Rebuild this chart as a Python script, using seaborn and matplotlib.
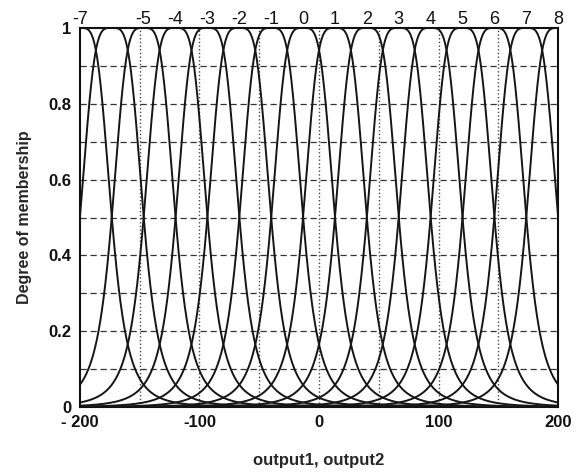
import numpy as np
import pandas as pd
import matplotlib
matplotlib.use('Agg')
import matplotlib.pyplot as plt
import seaborn as sns

# Membership function names (printed above each peak, '-6' is not printed in the original)
mf_names = ['-7', '-6', '-5', '-4', '-3', '-2', '-1', '0', '1', '2', '3', '4', '5', '6', '7', '8']
mf_centers = [-200, -173.3, -146.7, -120, -93.3, -66.7, -40, -13.3,
              13.3, 40, 66.7, 93.3, 120, 146.7, 173.3, 200]
hidden_names = ['-6']

# Generalized bell parameters (~0.94, 0.5, 0.17, 0.06)
bell_width = 26.7
bell_slope = 2

x_ticks = [-200, -100, 0, 100, 200]
x_tick_labels = ['- 200', '-100', '0', '100', '200']
y_ticks = [0, 0.2, 0.4, 0.6, 0.8, 1]
y_tick_labels = ['0', '0.2', '0.4', '0.6', '0.8', '1']
x_grid = [-150, -100, -50, 0, 50, 100, 150]
y_grid = [0.1, 0.2, 0.3, 0.4, 0.5, 0.6, 0.7, 0.8, 0.9]


# Builds a long-form DataFrame with one bell curve per membership function
def build_frame():
    xs = np.linspace(-200, 200, 1201)
    parts = []
    for name, c in zip(mf_names, mf_centers):
        mu = 1.0 / (1.0 + np.abs((xs - c) / bell_width) ** (2 * bell_slope))
        parts.append(pd.DataFrame({'x': xs, 'mu': mu, 'name': name}))
    return pd.concat(parts, ignore_index=True)


sns.set_style('white')
plt.rcParams['font.family'] = ['Liberation Sans', 'DejaVu Sans']

fig = plt.figure(figsize=(5.79, 4.74), dpi=100)
ax = fig.add_axes([0.138, 0.141, 0.826, 0.800])

# Grid: dashed horizontal, dotted vertical
for gy in y_grid:
    ax.axhline(gy, color='#333333', lw=0.9, dashes=(5, 3), zorder=1)
for gx in x_grid:
    ax.axvline(gx, color='#444444', lw=1.0, ls=':', zorder=1)

df = build_frame()
sns.lineplot(data=df, x='x', y='mu', hue='name', hue_order=mf_names,
             palette=['#151515'] * len(mf_names), legend=False,
             linewidth=1.4, ax=ax, zorder=3)

# Names above each peak
for name, c in zip(mf_names, mf_centers):
    if name in hidden_names:
        continue
    ax.text(c, 1.0, name, ha='center', va='bottom', fontsize=13, color='#111111')

ax.set_xlim(-200, 200)
ax.set_ylim(0, 1)
ax.set_xticks(x_ticks)
ax.set_xticklabels(x_tick_labels, fontweight='bold')
ax.set_yticks(y_ticks)
ax.set_yticklabels(y_tick_labels, fontweight='bold')
ax.tick_params(axis='both', direction='in', length=4, labelsize=12, width=1, colors='#111111', pad=6)

ax.set_xlabel('output1, output2', fontsize=12, fontweight='bold', labelpad=16)
ax.set_ylabel('Degree of membership', fontsize=11.5, fontweight='bold', labelpad=12)

for side in ['left', 'right', 'top', 'bottom']:
    ax.spines[side].set_visible(True)
    ax.spines[side].set_color('#111111')
    ax.spines[side].set_linewidth(1.5)

fig.savefig('out.png', dpi=100, facecolor='white')
